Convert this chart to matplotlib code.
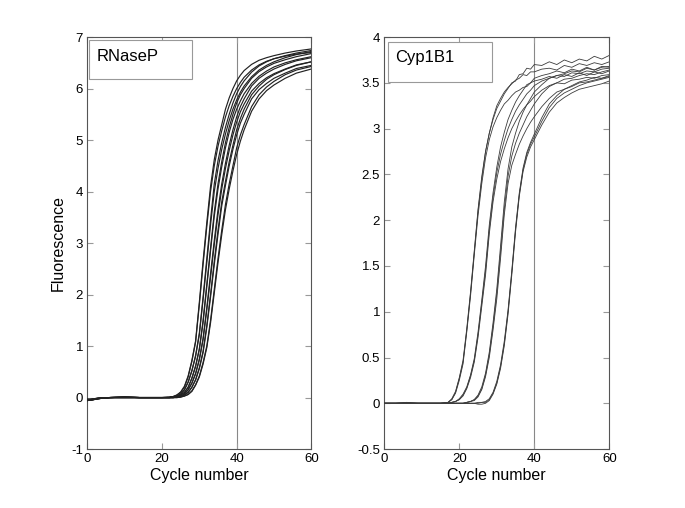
import matplotlib
matplotlib.use('Agg')
import matplotlib.pyplot as plt
from matplotlib.patches import Rectangle
from matplotlib.ticker import FormatStrFormatter

plt.rcParams['font.family'] = ['Liberation Sans', 'DejaVu Sans']

# ---- RNaseP (left panel) ----
cycles_left = [0, 1, 3, 6, 10, 14, 18, 20, 22,
               23, 24, 25, 26, 27, 28, 29, 30, 31, 32, 33, 34, 35, 36, 37, 38, 39, 40, 41, 42,
               44, 46, 48, 50, 53, 56, 60]
rnasep = [
    [-0.05, -0.04, -0.02, 0, 0.01, 0, 0, 0, 0.01,
     0.02, 0.05, 0.11, 0.22, 0.42, 0.72, 1.1, 1.85, 2.65, 3.4, 4.1, 4.62, 5.0, 5.3, 5.6, 5.82, 6.0, 6.15, 6.26, 6.35,
     6.47, 6.55, 6.6, 6.64, 6.69, 6.73, 6.77],
    [-0.04, -0.05, -0.02, 0, 0, 0, 0, 0, 0.01,
     0.02, 0.05, 0.1, 0.2, 0.4, 0.7, 1.08, 1.8, 2.58, 3.32, 4.0, 4.5, 4.88, 5.18, 5.45, 5.67, 5.85, 6.0, 6.12, 6.22,
     6.36, 6.46, 6.53, 6.58, 6.63, 6.67, 6.7],
    [-0.06, -0.04, -0.01, 0, 0.01, 0, 0, 0, 0,
     0.01, 0.03, 0.07, 0.15, 0.3, 0.52, 0.82, 1.25, 1.95, 2.7, 3.45, 4.15, 4.6, 4.95, 5.25, 5.5, 5.72, 5.9, 6.04, 6.15,
     6.32, 6.44, 6.52, 6.58, 6.64, 6.69, 6.74],
    [-0.03, -0.04, -0.02, 0, 0, 0, 0, 0, 0,
     0.01, 0.03, 0.07, 0.15, 0.3, 0.52, 0.8, 1.22, 1.9, 2.62, 3.35, 4.0, 4.45, 4.82, 5.12, 5.38, 5.6, 5.78, 5.93, 6.05,
     6.23, 6.36, 6.45, 6.52, 6.6, 6.66, 6.72],
    [-0.05, -0.05, -0.02, 0, 0.01, 0, 0, 0, 0,
     0.01, 0.02, 0.05, 0.1, 0.2, 0.38, 0.62, 0.95, 1.5, 2.2, 2.9, 3.6, 4.15, 4.58, 4.95, 5.25, 5.5, 5.72, 5.88, 6.0,
     6.2, 6.33, 6.42, 6.49, 6.56, 6.62, 6.68],
    [-0.04, -0.03, -0.01, 0, 0, 0, 0, 0, 0,
     0.01, 0.02, 0.05, 0.1, 0.2, 0.37, 0.6, 0.93, 1.45, 2.15, 2.85, 3.52, 4.05, 4.48, 4.85, 5.15, 5.4, 5.6, 5.76, 5.9,
     6.1, 6.24, 6.34, 6.42, 6.5, 6.56, 6.62],
    [-0.05, -0.04, -0.02, 0, 0.01, 0, 0, 0, 0,
     0, 0.01, 0.03, 0.07, 0.15, 0.28, 0.47, 0.75, 1.15, 1.75, 2.4, 3.05, 3.65, 4.15, 4.55, 4.9, 5.2, 5.45, 5.65, 5.8,
     6.05, 6.2, 6.3, 6.38, 6.47, 6.54, 6.6],
    [-0.03, -0.05, -0.02, 0, 0, 0, 0, 0, 0,
     0, 0.01, 0.03, 0.07, 0.15, 0.28, 0.46, 0.73, 1.12, 1.7, 2.33, 2.97, 3.55, 4.05, 4.45, 4.8, 5.1, 5.35, 5.55, 5.7,
     5.95, 6.1, 6.21, 6.29, 6.38, 6.46, 6.52],
    [-0.06, -0.04, -0.01, 0, 0.01, 0, 0, 0, 0,
     0, 0.01, 0.02, 0.05, 0.1, 0.2, 0.35, 0.58, 0.9, 1.4, 2.0, 2.65, 3.25, 3.8, 4.2, 4.58, 4.9, 5.2, 5.42, 5.6,
     5.88, 6.05, 6.18, 6.27, 6.37, 6.45, 6.52],
    [-0.04, -0.04, -0.02, 0, 0, 0, 0, 0, 0,
     0, 0.01, 0.02, 0.05, 0.1, 0.2, 0.34, 0.56, 0.87, 1.36, 1.95, 2.58, 3.17, 3.72, 4.12, 4.5, 4.82, 5.1, 5.33, 5.5,
     5.8, 5.98, 6.1, 6.2, 6.3, 6.39, 6.45],
    [-0.05, -0.05, -0.02, 0, 0.01, 0, 0, 0, 0,
     0, 0, 0.01, 0.03, 0.06, 0.13, 0.25, 0.42, 0.68, 1.0, 1.5, 2.1, 2.7, 3.25, 3.75, 4.15, 4.5, 4.85, 5.1, 5.3,
     5.65, 5.88, 6.03, 6.14, 6.27, 6.36, 6.43],
    [-0.04, -0.03, -0.01, 0, 0, 0, 0, 0, 0,
     0, 0, 0.01, 0.03, 0.06, 0.12, 0.24, 0.4, 0.65, 0.97, 1.45, 2.03, 2.62, 3.16, 3.65, 4.05, 4.4, 4.72, 4.98, 5.2,
     5.56, 5.8, 5.96, 6.07, 6.2, 6.3, 6.38],
]

# ---- Cyp1B1 (right panel) ----
cycles_right = [0, 3, 6, 9, 12, 15,
                17, 18, 19, 20, 21, 22, 23, 24, 25, 26, 27, 28, 29, 30, 31, 32, 33, 34, 35, 36, 37, 38, 39, 40,
                42, 44, 46, 48, 50, 52, 54, 56, 58, 60]
cyp1b1 = [
    [0, 0, 0.01, 0, 0, 0,
     0.01, 0.04, 0.12, 0.27, 0.45, 0.8, 1.2, 1.65, 2.1, 2.45, 2.75, 2.95, 3.1, 3.22, 3.3, 3.38, 3.44, 3.5, 3.52, 3.59, 3.6, 3.66, 3.65, 3.7,
     3.69, 3.73, 3.7, 3.75, 3.72, 3.76, 3.74, 3.79, 3.76, 3.8],
    [0, 0, 0, 0, 0, 0,
     0.01, 0.05, 0.13, 0.28, 0.47, 0.82, 1.22, 1.67, 2.12, 2.48, 2.75, 2.95, 3.12, 3.25, 3.33, 3.4, 3.45, 3.49, 3.53, 3.55, 3.59, 3.58, 3.62, 3.62,
     3.65, 3.66, 3.64, 3.69, 3.67, 3.71, 3.69, 3.72, 3.7, 3.73],
    [0, 0, 0, 0, 0, 0,
     0.01, 0.04, 0.11, 0.25, 0.43, 0.78, 1.17, 1.62, 2.05, 2.4, 2.68, 2.88, 3.02, 3.12, 3.2, 3.27, 3.31, 3.36, 3.4, 3.42, 3.45, 3.46, 3.5, 3.52,
     3.54, 3.57, 3.55, 3.59, 3.57, 3.61, 3.58, 3.62, 3.6, 3.63],
    [0, 0, 0, 0, 0, 0,
     0, 0.01, 0.02, 0.04, 0.09, 0.17, 0.3, 0.47, 0.75, 1.1, 1.45, 1.9, 2.25, 2.52, 2.72, 2.87, 3.0, 3.1, 3.19, 3.26, 3.32, 3.38, 3.42, 3.47,
     3.52, 3.55, 3.58, 3.57, 3.61, 3.6, 3.63, 3.62, 3.65, 3.66],
    [0, 0, 0.01, 0, 0, 0,
     0, 0.01, 0.02, 0.05, 0.1, 0.18, 0.31, 0.49, 0.78, 1.13, 1.5, 1.95, 2.3, 2.58, 2.8, 2.96, 3.1, 3.2, 3.29, 3.36, 3.42, 3.48, 3.5, 3.55,
     3.58, 3.6, 3.63, 3.61, 3.65, 3.63, 3.67, 3.64, 3.68, 3.67],
    [0, 0, 0, 0, 0, 0,
     0, 0.01, 0.02, 0.04, 0.08, 0.16, 0.28, 0.45, 0.72, 1.06, 1.4, 1.85, 2.2, 2.45, 2.64, 2.78, 2.9, 3.0, 3.08, 3.15, 3.21, 3.26, 3.3, 3.35,
     3.42, 3.47, 3.5, 3.49, 3.53, 3.54, 3.56, 3.55, 3.58, 3.59],
    [0, 0, 0, 0, 0, 0,
     0, 0, 0, 0, 0, 0.01, 0.02, 0.04, 0.08, 0.16, 0.31, 0.53, 0.84, 1.2, 1.65, 2.12, 2.48, 2.7, 2.84, 2.95, 3.04, 3.13, 3.2, 3.27,
     3.38, 3.46, 3.5, 3.54, 3.55, 3.58, 3.6, 3.59, 3.62, 3.64],
    [0, 0, 0, 0, 0, 0,
     0, 0, 0, 0, 0, 0.01, 0.02, 0.04, 0.09, 0.18, 0.33, 0.56, 0.88, 1.25, 1.72, 2.2, 2.56, 2.8, 2.95, 3.08, 3.18, 3.26, 3.33, 3.4,
     3.48, 3.55, 3.58, 3.6, 3.63, 3.62, 3.66, 3.64, 3.67, 3.68],
    [0, 0, 0, 0, 0, 0,
     0, 0, 0, 0, 0, 0.01, 0.02, 0.03, 0.07, 0.15, 0.29, 0.5, 0.8, 1.14, 1.58, 2.06, 2.4, 2.6, 2.72, 2.83, 2.92, 3.0, 3.07, 3.13,
     3.24, 3.33, 3.4, 3.43, 3.46, 3.5, 3.51, 3.53, 3.55, 3.57],
    [0, 0, 0, 0, 0, 0,
     0, 0, 0, 0, 0, 0, 0, 0, 0.01, 0.01, 0.02, 0.05, 0.12, 0.24, 0.42, 0.68, 1.02, 1.45, 1.92, 2.3, 2.57, 2.74, 2.85, 2.94,
     3.12, 3.27, 3.36, 3.43, 3.47, 3.51, 3.53, 3.56, 3.55, 3.58],
    [0, 0, 0, 0, 0, 0,
     0, 0, 0, 0, 0, 0, 0, 0, -0.01, -0.01, 0.0, 0.03, 0.1, 0.21, 0.38, 0.63, 0.97, 1.4, 1.87, 2.26, 2.53, 2.69, 2.8, 2.88,
     3.04, 3.18, 3.28, 3.34, 3.39, 3.43, 3.45, 3.47, 3.49, 3.52],
    [0, 0, 0, 0, 0, 0,
     0, 0, 0, 0, 0, 0, 0, 0, 0, 0.01, 0.01, 0.04, 0.11, 0.22, 0.4, 0.65, 1.0, 1.43, 1.9, 2.28, 2.55, 2.72, 2.83, 2.91,
     3.08, 3.23, 3.33, 3.39, 3.43, 3.47, 3.5, 3.52, 3.54, 3.56],
]


def style_axes(ax, ylim, yticks):
    ax.set_xlim(0, 60)
    ax.set_ylim(*ylim)
    ax.set_xticks([0, 20, 40, 60])
    ax.set_yticks(yticks)
    ax.yaxis.set_major_formatter(FormatStrFormatter('%g'))
    ax.tick_params(direction='in', top=True, right=True, length=4,
                   color='#999999', labelsize=9.5, pad=3)
    for s in ax.spines.values():
        s.set_color('#555555')
        s.set_linewidth(0.8)
    ax.axvline(40, color='#888888', lw=0.8, zorder=1)
    ax.set_xlabel('Cycle number', fontsize=11.5, labelpad=2)


def label_box(ax, text, x0, y0, w, h, tx, ty):
    ax.add_patch(Rectangle((x0, y0), w, h, transform=ax.transAxes, fill=True,
                           facecolor='white', edgecolor='#999999', lw=0.8, zorder=5))
    ax.text(tx, ty, text, transform=ax.transAxes, fontsize=12, va='center',
            ha='left', zorder=6)


fig = plt.figure(figsize=(6.85, 5.08), dpi=100)
ax1 = fig.add_axes([0.1275, 0.116, 0.327, 0.811])
ax2 = fig.add_axes([0.561, 0.116, 0.3285, 0.811])

for vals in rnasep:
    ax1.plot(cycles_left, vals, color='#222222', lw=0.85, zorder=3)
style_axes(ax1, (-1, 7), list(range(-1, 8)))
ax1.set_ylabel('Fluorescence', fontsize=11.5, labelpad=4)
label_box(ax1, 'RNaseP', 0.008, 0.899, 0.459, 0.093, 0.042, 0.954)

for vals in cyp1b1:
    ax2.plot(cycles_right, vals, color='#3c3c3c', lw=0.6, zorder=3)
style_axes(ax2, (-0.5, 4), [-0.5, 0, 0.5, 1, 1.5, 2, 2.5, 3, 3.5, 4])
label_box(ax2, 'Cyp1B1', 0.015, 0.892, 0.462, 0.095, 0.047, 0.951)

fig.savefig('out.png', dpi=100)
